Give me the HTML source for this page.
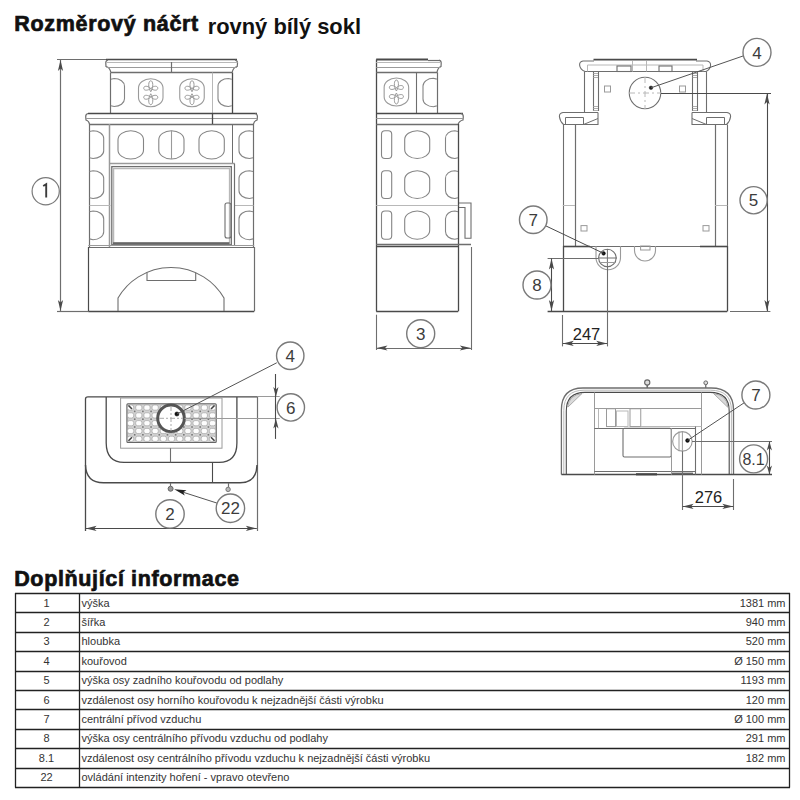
<!DOCTYPE html><html><head><meta charset="utf-8"><style>html,body{margin:0;padding:0;background:#fff;width:800px;height:800px;overflow:hidden}svg{position:absolute;left:0;top:0;font-family:"Liberation Sans",sans-serif}</style></head><body>
<svg width="800" height="800" viewBox="0 0 800 800">
<rect x="0" y="0" width="800" height="800" fill="#fff"/>
<text x="14.3" y="31.3" font-size="21.5" text-anchor="start" fill="#111" font-weight="bold" letter-spacing="0.68" stroke="#111" stroke-width="0.7">Rozměrový náčrt</text>
<text x="207.7" y="34.4" font-size="21.9" text-anchor="start" fill="#111" font-weight="bold" >rovný bílý sokl</text>
<text x="14.2" y="586.2" font-size="21.5" text-anchor="start" fill="#111" font-weight="bold" letter-spacing="0.64" stroke="#111" stroke-width="0.7">Doplňující informace</text>
<line x1="15" y1="593.5" x2="790" y2="593.5" stroke="#222" stroke-width="1.3"/>
<line x1="15" y1="612.5" x2="790" y2="612.5" stroke="#222" stroke-width="1.3"/>
<line x1="15" y1="632.5" x2="790" y2="632.5" stroke="#222" stroke-width="1.3"/>
<line x1="15" y1="651.5" x2="790" y2="651.5" stroke="#222" stroke-width="1.3"/>
<line x1="15" y1="671.5" x2="790" y2="671.5" stroke="#222" stroke-width="1.3"/>
<line x1="15" y1="690.5" x2="790" y2="690.5" stroke="#222" stroke-width="1.3"/>
<line x1="15" y1="709.5" x2="790" y2="709.5" stroke="#222" stroke-width="1.3"/>
<line x1="15" y1="729.5" x2="790" y2="729.5" stroke="#222" stroke-width="1.3"/>
<line x1="15" y1="748.5" x2="790" y2="748.5" stroke="#222" stroke-width="1.3"/>
<line x1="15" y1="768.5" x2="790" y2="768.5" stroke="#222" stroke-width="1.3"/>
<line x1="15" y1="787.5" x2="790" y2="787.5" stroke="#222" stroke-width="1.3"/>
<line x1="15.5" y1="593" x2="15.5" y2="787.5" stroke="#222" stroke-width="1.3"/>
<line x1="79.5" y1="593" x2="79.5" y2="787.5" stroke="#222" stroke-width="1.3"/>
<line x1="789.5" y1="593" x2="789.5" y2="787.5" stroke="#222" stroke-width="1.3"/>
<text x="46.5" y="606.6" font-size="11" text-anchor="middle" fill="#333" font-weight="normal" >1</text>
<text x="81.5" y="606.6" font-size="11" text-anchor="start" fill="#333" font-weight="normal" >výška</text>
<text x="785.5" y="606.6" font-size="11" text-anchor="end" fill="#333" font-weight="normal" >1381 mm</text>
<text x="46.5" y="626.0" font-size="11" text-anchor="middle" fill="#333" font-weight="normal" >2</text>
<text x="81.5" y="626.0" font-size="11" text-anchor="start" fill="#333" font-weight="normal" >šířka</text>
<text x="785.5" y="626.0" font-size="11" text-anchor="end" fill="#333" font-weight="normal" >940 mm</text>
<text x="46.5" y="645.4" font-size="11" text-anchor="middle" fill="#333" font-weight="normal" >3</text>
<text x="81.5" y="645.4" font-size="11" text-anchor="start" fill="#333" font-weight="normal" >hloubka</text>
<text x="785.5" y="645.4" font-size="11" text-anchor="end" fill="#333" font-weight="normal" >520 mm</text>
<text x="46.5" y="664.8000000000001" font-size="11" text-anchor="middle" fill="#333" font-weight="normal" >4</text>
<text x="81.5" y="664.8000000000001" font-size="11" text-anchor="start" fill="#333" font-weight="normal" >kouřovod</text>
<text x="785.5" y="664.8000000000001" font-size="11" text-anchor="end" fill="#333" font-weight="normal" >Ø 150 mm</text>
<text x="46.5" y="684.2" font-size="11" text-anchor="middle" fill="#333" font-weight="normal" >5</text>
<text x="81.5" y="684.2" font-size="11" text-anchor="start" fill="#333" font-weight="normal" >výška osy zadního kouřovodu od podlahy</text>
<text x="785.5" y="684.2" font-size="11" text-anchor="end" fill="#333" font-weight="normal" >1193 mm</text>
<text x="46.5" y="703.6" font-size="11" text-anchor="middle" fill="#333" font-weight="normal" >6</text>
<text x="81.5" y="703.6" font-size="11" text-anchor="start" fill="#333" font-weight="normal" >vzdálenost osy horního kouřovodu k nejzadnější části výrobku</text>
<text x="785.5" y="703.6" font-size="11" text-anchor="end" fill="#333" font-weight="normal" >120 mm</text>
<text x="46.5" y="723.0" font-size="11" text-anchor="middle" fill="#333" font-weight="normal" >7</text>
<text x="81.5" y="723.0" font-size="11" text-anchor="start" fill="#333" font-weight="normal" >centrální přívod vzduchu</text>
<text x="785.5" y="723.0" font-size="11" text-anchor="end" fill="#333" font-weight="normal" >Ø 100 mm</text>
<text x="46.5" y="742.4" font-size="11" text-anchor="middle" fill="#333" font-weight="normal" >8</text>
<text x="81.5" y="742.4" font-size="11" text-anchor="start" fill="#333" font-weight="normal" >výška osy centrálního přívodu vzduchu od podlahy</text>
<text x="785.5" y="742.4" font-size="11" text-anchor="end" fill="#333" font-weight="normal" >291 mm</text>
<text x="46.5" y="761.8000000000001" font-size="11" text-anchor="middle" fill="#333" font-weight="normal" >8.1</text>
<text x="81.5" y="761.8000000000001" font-size="11" text-anchor="start" fill="#333" font-weight="normal" >vzdálenost osy centrálního přívodu vzduchu k nejzadnější části výrobku</text>
<text x="785.5" y="761.8000000000001" font-size="11" text-anchor="end" fill="#333" font-weight="normal" >182 mm</text>
<text x="46.5" y="781.2" font-size="11" text-anchor="middle" fill="#333" font-weight="normal" >22</text>
<text x="81.5" y="781.2" font-size="11" text-anchor="start" fill="#333" font-weight="normal" >ovládání intenzity hoření - vpravo otevřeno</text>
<line x1="57" y1="59.5" x2="106" y2="59.5" stroke="#6e6e6e" stroke-width="1.2"/>
<line x1="57" y1="311.5" x2="88.3" y2="311.5" stroke="#6e6e6e" stroke-width="1.2"/>
<line x1="60.5" y1="60" x2="60.5" y2="311" stroke="#6e6e6e" stroke-width="1.2"/>
<path d="M60.50,60.00 L63.10,71.00 L60.50,68.50 L57.90,71.00 Z" fill="#4a4a4a" stroke="none"/>
<path d="M60.50,311.00 L57.90,300.00 L60.50,302.50 L63.10,300.00 Z" fill="#4a4a4a" stroke="none"/>
<circle cx="45.7" cy="191.2" r="13.6" stroke="#7a7a7a" stroke-width="1.2" fill="none"/>
<path d="M43.2,186 L46.2,184.2 L46.2,197.5" stroke="#3c3c3c" stroke-width="1.9" fill="none" stroke-linejoin="miter"/>
<line x1="106" y1="59.5" x2="237" y2="59.5" stroke="#4a4a4a" stroke-width="1.6"/>
<path d="M108,60 Q105.5,60.5 105.8,63.5 L106,66.5 Q110,67.5 110.8,72.5" stroke="#6e6e6e" stroke-width="1.2" fill="none" />
<path d="M235,60 Q237.8,60.5 237.5,63.5 L237.2,66.5 Q233,67.5 232.2,72.5" stroke="#6e6e6e" stroke-width="1.2" fill="none" />
<line x1="106" y1="62.5" x2="237.5" y2="62.5" stroke="#b8b8b8" stroke-width="1"/>
<line x1="106.5" y1="67.5" x2="237" y2="67.5" stroke="#9a9a9a" stroke-width="1.1"/>
<line x1="110.8" y1="72.5" x2="232.2" y2="72.5" stroke="#6e6e6e" stroke-width="1.3"/>
<line x1="171.5" y1="62" x2="171.5" y2="72.5" stroke="#6e6e6e" stroke-width="1.2"/>
<line x1="110.5" y1="72.5" x2="110.5" y2="113" stroke="#6e6e6e" stroke-width="1.2"/>
<line x1="232.5" y1="72.5" x2="232.5" y2="113" stroke="#4a4a4a" stroke-width="1.3"/>
<line x1="212.5" y1="72.5" x2="212.5" y2="113" stroke="#b8b8b8" stroke-width="1"/>
<path d="M110.80,79.30 L114.22,78.50 A10.28,7.70 0 0 1 124.50,86.20 L124.50,98.80 A10.28,7.70 0 0 1 114.22,106.50 L110.80,105.70" stroke="#858585" stroke-width="1.1" fill="none" />
<path d="M231.80,79.30 L228.35,78.50 A10.35,7.70 0 0 0 218.00,86.20 L218.00,98.80 A10.35,7.70 0 0 0 228.35,106.50 L231.80,105.70" stroke="#858585" stroke-width="1.1" fill="none" />
<path d="M138.50,87.99 A12.25,9.24 0 0 1 163.00,87.99 L163.00,97.51 A12.25,9.24 0 0 1 138.50,97.51 Z" stroke="#9a9a9a" stroke-width="1.1" fill="none" />
<path d="M150.75,91.75 C147.55,86.75 148.55,80.75 150.75,80.75 C152.95,80.75 153.95,86.75 150.75,91.75" stroke="#9a9a9a" stroke-width="1" fill="none" />
<path d="M150.75,88.55 C147.75,85.25 143.25,85.75 143.75,88.55 C144.25,90.95 147.75,90.55 150.75,88.55" stroke="#9a9a9a" stroke-width="1" fill="none" />
<path d="M150.75,88.55 C153.75,85.25 158.25,85.75 157.75,88.55 C157.25,90.95 153.75,90.55 150.75,88.55" stroke="#9a9a9a" stroke-width="1" fill="none" />
<path d="M150.75,93.75 C147.55,98.75 148.55,104.75 150.75,104.75 C152.95,104.75 153.95,98.75 150.75,93.75" stroke="#9a9a9a" stroke-width="1" fill="none" />
<path d="M150.75,96.95 C147.75,100.25 143.25,99.75 143.75,96.95 C144.25,94.55 147.75,94.95 150.75,96.95" stroke="#9a9a9a" stroke-width="1" fill="none" />
<path d="M150.75,96.95 C153.75,100.25 158.25,99.75 157.75,96.95 C157.25,94.55 153.75,94.95 150.75,96.95" stroke="#9a9a9a" stroke-width="1" fill="none" />
<path d="M179.75,87.99 A12.25,9.24 0 0 1 204.25,87.99 L204.25,97.51 A12.25,9.24 0 0 1 179.75,97.51 Z" stroke="#9a9a9a" stroke-width="1.1" fill="none" />
<path d="M192,91.75 C188.8,86.75 189.8,80.75 192,80.75 C194.2,80.75 195.2,86.75 192,91.75" stroke="#9a9a9a" stroke-width="1" fill="none" />
<path d="M192,88.55 C189,85.25 184.5,85.75 185,88.55 C185.5,90.95 189,90.55 192,88.55" stroke="#9a9a9a" stroke-width="1" fill="none" />
<path d="M192,88.55 C195,85.25 199.5,85.75 199,88.55 C198.5,90.95 195,90.55 192,88.55" stroke="#9a9a9a" stroke-width="1" fill="none" />
<path d="M192,93.75 C188.8,98.75 189.8,104.75 192,104.75 C194.2,104.75 195.2,98.75 192,93.75" stroke="#9a9a9a" stroke-width="1" fill="none" />
<path d="M192,96.95 C189,100.25 184.5,99.75 185,96.95 C185.5,94.55 189,94.95 192,96.95" stroke="#9a9a9a" stroke-width="1" fill="none" />
<path d="M192,96.95 C195,100.25 199.5,99.75 199,96.95 C198.5,94.55 195,94.95 192,96.95" stroke="#9a9a9a" stroke-width="1" fill="none" />
<line x1="88" y1="113.5" x2="257" y2="113.5" stroke="#4a4a4a" stroke-width="1.6"/>
<path d="M88,113.5 Q85.5,114 85.7,117 L86,120 Q89,121 89.5,124.2" stroke="#6e6e6e" stroke-width="1.2" fill="none" />
<path d="M255,113.5 Q257.6,114 257.4,117 L257.1,120 Q254,121 253.5,124.2" stroke="#6e6e6e" stroke-width="1.2" fill="none" />
<line x1="86" y1="118.5" x2="257" y2="118.5" stroke="#9a9a9a" stroke-width="1.1"/>
<line x1="89.5" y1="124.5" x2="253.5" y2="124.5" stroke="#6e6e6e" stroke-width="1.3"/>
<line x1="212.5" y1="113.3" x2="212.5" y2="124" stroke="#4a4a4a" stroke-width="1.3"/>
<line x1="89.5" y1="124" x2="89.5" y2="247" stroke="#6e6e6e" stroke-width="1.2"/>
<line x1="253.5" y1="124" x2="253.5" y2="247" stroke="#6e6e6e" stroke-width="1.2"/>
<line x1="109.5" y1="124" x2="109.5" y2="247" stroke="#9a9a9a" stroke-width="1.5"/>
<line x1="232.5" y1="124" x2="232.5" y2="164" stroke="#6e6e6e" stroke-width="1"/>
<path d="M89.50,131.50 L93.05,130.70 A10.65,7.65 0 0 1 103.70,138.34 L103.70,150.85 A10.65,7.65 0 0 1 93.05,158.50 L89.50,157.70" stroke="#858585" stroke-width="1.1" fill="none" />
<path d="M253.00,131.50 L249.50,130.70 A10.50,7.65 0 0 0 239.00,138.34 L239.00,150.85 A10.50,7.65 0 0 0 249.50,158.50 L253.00,157.70" stroke="#858585" stroke-width="1.1" fill="none" />
<path d="M89.50,171.50 L93.05,170.70 A10.65,7.65 0 0 1 103.70,178.34 L103.70,190.85 A10.65,7.65 0 0 1 93.05,198.50 L89.50,197.70" stroke="#858585" stroke-width="1.1" fill="none" />
<path d="M253.00,171.50 L249.50,170.70 A10.50,7.65 0 0 0 239.00,178.34 L239.00,190.85 A10.50,7.65 0 0 0 249.50,198.50 L253.00,197.70" stroke="#858585" stroke-width="1.1" fill="none" />
<path d="M89.50,211.80 L93.05,211.00 A10.65,7.89 0 0 1 103.70,218.89 L103.70,231.81 A10.65,7.89 0 0 1 93.05,239.70 L89.50,238.90" stroke="#858585" stroke-width="1.1" fill="none" />
<path d="M253.00,211.80 L249.50,211.00 A10.50,7.89 0 0 0 239.00,218.89 L239.00,231.81 A10.50,7.89 0 0 0 249.50,239.70 L253.00,238.90" stroke="#858585" stroke-width="1.1" fill="none" />
<line x1="89.5" y1="205.5" x2="110.5" y2="205.5" stroke="#b8b8b8" stroke-width="1"/>
<line x1="234.7" y1="205.5" x2="253.5" y2="205.5" stroke="#b8b8b8" stroke-width="1"/>
<path d="M118.00,139.76 A12.75,9.06 0 0 1 143.50,139.76 L143.50,149.94 A12.75,9.06 0 0 1 118.00,149.94 Z" stroke="#858585" stroke-width="1.1" fill="none" />
<path d="M158.80,139.76 A12.60,9.06 0 0 1 184.00,139.76 L184.00,149.94 A12.60,9.06 0 0 1 158.80,149.94 Z" stroke="#858585" stroke-width="1.1" fill="none" />
<line x1="171.5" y1="130.7" x2="171.5" y2="159" stroke="#9a9a9a" stroke-width="1.1"/>
<path d="M199.00,139.76 A12.65,9.06 0 0 1 224.30,139.76 L224.30,149.94 A12.65,9.06 0 0 1 199.00,149.94 Z" stroke="#858585" stroke-width="1.1" fill="none" />
<line x1="109.5" y1="163.5" x2="234.7" y2="163.5" stroke="#9a9a9a" stroke-width="1.5"/>
<rect x="111.8" y="166.6" width="119.5" height="78.2" rx="0" stroke="#6e6e6e" stroke-width="1.3" fill="none"/>
<rect x="113.6" y="168.6" width="115.9" height="74.4" rx="0" stroke="#b8b8b8" stroke-width="1.3" fill="none"/>
<line x1="234.5" y1="163.6" x2="234.5" y2="246" stroke="#6e6e6e" stroke-width="1.2"/>
<line x1="113" y1="243.4" x2="229.5" y2="243.4" stroke="#666" stroke-width="2.2"/>
<rect x="225" y="203" width="6" height="35" rx="2" stroke="#6e6e6e" stroke-width="1.1" fill="none"/>
<line x1="88.3" y1="245.5" x2="254.2" y2="245.5" stroke="#9a9a9a" stroke-width="1"/>
<line x1="88.3" y1="247.5" x2="254.2" y2="247.5" stroke="#6e6e6e" stroke-width="1.2"/>
<line x1="88.5" y1="247" x2="88.5" y2="311.3" stroke="#4a4a4a" stroke-width="1.2"/>
<line x1="254.5" y1="247" x2="254.5" y2="311.3" stroke="#6e6e6e" stroke-width="1.2"/>
<line x1="88.3" y1="311.5" x2="254.2" y2="311.5" stroke="#4a4a4a" stroke-width="1.3"/>
<path d="M118,311 L118,298 A61.3,61.3 0 0 1 224,298 L224,311" stroke="#6e6e6e" stroke-width="1.1" fill="none" />
<path d="M147,272.4 L147,280.5 L195.7,280.5 L195.7,272.8" stroke="#6e6e6e" stroke-width="1.1" fill="none" />
<line x1="376.5" y1="59.5" x2="376.5" y2="311.3" stroke="#4a4a4a" stroke-width="1.3"/>
<line x1="376.2" y1="59.6" x2="428" y2="59.6" stroke="#4a4a4a" stroke-width="2"/>
<line x1="428" y1="60.5" x2="439" y2="60.5" stroke="#6e6e6e" stroke-width="1.2"/>
<path d="M439,60.2 Q441.4,60.8 441.2,63.5 L441,66.5 Q437.8,67.5 437,72.5" stroke="#6e6e6e" stroke-width="1.2" fill="none" />
<line x1="376.2" y1="62.5" x2="441" y2="62.5" stroke="#b8b8b8" stroke-width="1"/>
<line x1="376.2" y1="67.5" x2="440.5" y2="67.5" stroke="#9a9a9a" stroke-width="1.1"/>
<line x1="376.2" y1="72.5" x2="437" y2="72.5" stroke="#6e6e6e" stroke-width="1.3"/>
<line x1="437.5" y1="72.3" x2="437.5" y2="113" stroke="#6e6e6e" stroke-width="1.2"/>
<line x1="416.5" y1="72.3" x2="416.5" y2="113" stroke="#6e6e6e" stroke-width="1.1"/>
<path d="M384.15,87.24 A12.25,9.24 0 0 1 408.65,87.24 L408.65,96.76 A12.25,9.24 0 0 1 384.15,96.76 Z" stroke="#9a9a9a" stroke-width="1.1" fill="none" />
<path d="M396.4,91.0 C393.2,86 394.2,80 396.4,80 C398.59999999999997,80 399.59999999999997,86 396.4,91.0" stroke="#9a9a9a" stroke-width="1" fill="none" />
<path d="M396.4,87.8 C393.4,84.5 388.9,85 389.4,87.8 C389.9,90.2 393.4,89.8 396.4,87.8" stroke="#9a9a9a" stroke-width="1" fill="none" />
<path d="M396.4,87.8 C399.4,84.5 403.9,85 403.4,87.8 C402.9,90.2 399.4,89.8 396.4,87.8" stroke="#9a9a9a" stroke-width="1" fill="none" />
<path d="M396.4,93.0 C393.2,98 394.2,104 396.4,104 C398.59999999999997,104 399.59999999999997,98 396.4,93.0" stroke="#9a9a9a" stroke-width="1" fill="none" />
<path d="M396.4,96.2 C393.4,99.5 388.9,99 389.4,96.2 C389.9,93.8 393.4,94.2 396.4,96.2" stroke="#9a9a9a" stroke-width="1" fill="none" />
<path d="M396.4,96.2 C399.4,99.5 403.9,99 403.4,96.2 C402.9,93.8 399.4,94.2 396.4,96.2" stroke="#9a9a9a" stroke-width="1" fill="none" />
<path d="M436.80,79.10 L433.35,78.30 A10.35,7.81 0 0 0 423.00,86.11 L423.00,98.89 A10.35,7.81 0 0 0 433.35,106.70 L436.80,105.90" stroke="#858585" stroke-width="1.1" fill="none" />
<line x1="376.2" y1="113.5" x2="463" y2="113.5" stroke="#4a4a4a" stroke-width="1.6"/>
<path d="M461,113.5 Q463.5,114 463.3,117 L463,120 Q459,121 458.2,124.2" stroke="#6e6e6e" stroke-width="1.2" fill="none" />
<line x1="376.2" y1="118.5" x2="463" y2="118.5" stroke="#9a9a9a" stroke-width="1.1"/>
<line x1="376.2" y1="124.5" x2="458.2" y2="124.5" stroke="#6e6e6e" stroke-width="1.3"/>
<line x1="458.5" y1="124" x2="458.5" y2="311.3" stroke="#4a4a4a" stroke-width="1.3"/>
<rect x="381.5" y="130.7" width="10.2" height="27.80000000000001" rx="3.5" stroke="#858585" stroke-width="1.1" fill="none"/>
<path d="M404.70,139.60 A12.50,8.90 0 0 1 429.70,139.60 L429.70,149.60 A12.50,8.90 0 0 1 404.70,149.60 Z" stroke="#858585" stroke-width="1.1" fill="none" />
<path d="M458.00,131.50 L454.88,130.70 A9.38,7.65 0 0 0 445.50,138.34 L445.50,150.85 A9.38,7.65 0 0 0 454.88,158.50 L458.00,157.70" stroke="#858585" stroke-width="1.1" fill="none" />
<rect x="381.5" y="170.7" width="10.2" height="27.80000000000001" rx="3.5" stroke="#858585" stroke-width="1.1" fill="none"/>
<path d="M404.70,179.60 A12.50,8.90 0 0 1 429.70,179.60 L429.70,189.60 A12.50,8.90 0 0 1 404.70,189.60 Z" stroke="#858585" stroke-width="1.1" fill="none" />
<path d="M458.00,171.50 L454.88,170.70 A9.38,7.65 0 0 0 445.50,178.34 L445.50,190.85 A9.38,7.65 0 0 0 454.88,198.50 L458.00,197.70" stroke="#858585" stroke-width="1.1" fill="none" />
<rect x="381.5" y="211" width="10.2" height="28.30000000000001" rx="3.5" stroke="#858585" stroke-width="1.1" fill="none"/>
<path d="M404.70,220.06 A12.50,9.06 0 0 1 429.70,220.06 L429.70,230.24 A12.50,9.06 0 0 1 404.70,230.24 Z" stroke="#858585" stroke-width="1.1" fill="none" />
<path d="M458.00,211.80 L454.88,211.00 A9.38,7.78 0 0 0 445.50,218.78 L445.50,231.52 A9.38,7.78 0 0 0 454.88,239.30 L458.00,238.50" stroke="#858585" stroke-width="1.1" fill="none" />
<line x1="376.2" y1="205.5" x2="458.2" y2="205.5" stroke="#b8b8b8" stroke-width="1"/>
<path d="M459,203 L471,203 L471,238.2 L465,238.2 L465,207.5 L459,207.5" stroke="#6e6e6e" stroke-width="1.1" fill="none" />
<line x1="376.2" y1="244.5" x2="471" y2="244.5" stroke="#6e6e6e" stroke-width="1.3"/>
<line x1="376.2" y1="246.5" x2="458.2" y2="246.5" stroke="#4a4a4a" stroke-width="1.3"/>
<line x1="376.2" y1="311.5" x2="458.2" y2="311.5" stroke="#4a4a4a" stroke-width="1.3"/>
<line x1="471.5" y1="247" x2="471.5" y2="350" stroke="#6e6e6e" stroke-width="1.1"/>
<line x1="376.5" y1="314.7" x2="376.5" y2="350" stroke="#6e6e6e" stroke-width="1.1"/>
<line x1="376.5" y1="348.5" x2="471" y2="348.5" stroke="#6e6e6e" stroke-width="1.1"/>
<path d="M376.50,348.00 L387.50,345.40 L385.00,348.00 L387.50,350.60 Z" fill="#4a4a4a" stroke="none"/>
<path d="M470.80,348.00 L459.80,350.60 L462.30,348.00 L459.80,345.40 Z" fill="#4a4a4a" stroke="none"/>
<circle cx="420.7" cy="333.7" r="14" stroke="#7a7a7a" stroke-width="1.4" fill="none"/>
<text x="420.7" y="339.82" font-size="17" text-anchor="middle" fill="#3c3c3c" font-weight="normal" >3</text>
<line x1="593.5" y1="59.6" x2="697" y2="59.6" stroke="#4a4a4a" stroke-width="1.8"/>
<path d="M594,61 L583,61 Q579.5,61.5 579.6,65 Q580,69.5 585,71.5 L706,71.5 Q710.3,69.5 710.6,65 Q710.5,61.5 707,61 L696,61" stroke="#6e6e6e" stroke-width="1.1" fill="none" />
<path d="M587.5,71.5 L587.5,65 L703,65 L703,71.5" stroke="#b8b8b8" stroke-width="1" fill="none" />
<rect x="617" y="66" width="14" height="5.5" rx="0" stroke="#6e6e6e" stroke-width="1.1" fill="none"/>
<rect x="659" y="66" width="13" height="5.5" rx="0" stroke="#6e6e6e" stroke-width="1.1" fill="none"/>
<line x1="632.5" y1="61" x2="632.5" y2="71.5" stroke="#b8b8b8" stroke-width="1"/>
<line x1="646.5" y1="61" x2="646.5" y2="71.5" stroke="#b8b8b8" stroke-width="1"/>
<line x1="584.5" y1="71.5" x2="584.5" y2="112.5" stroke="#6e6e6e" stroke-width="1.1"/>
<line x1="706.5" y1="71.5" x2="706.5" y2="112.5" stroke="#6e6e6e" stroke-width="1.1"/>
<line x1="593.5" y1="72" x2="593.5" y2="111" stroke="#6e6e6e" stroke-width="1.1"/>
<line x1="598.5" y1="72" x2="598.5" y2="111" stroke="#6e6e6e" stroke-width="1.1"/>
<line x1="593" y1="73.5" x2="598" y2="73.5" stroke="#9a9a9a" stroke-width="0.8"/>
<line x1="593" y1="75.5" x2="598" y2="75.5" stroke="#9a9a9a" stroke-width="0.8"/>
<line x1="593" y1="77.5" x2="598" y2="77.5" stroke="#9a9a9a" stroke-width="0.8"/>
<line x1="593" y1="106.5" x2="598" y2="106.5" stroke="#9a9a9a" stroke-width="0.8"/>
<line x1="593" y1="108.5" x2="598" y2="108.5" stroke="#9a9a9a" stroke-width="0.8"/>
<line x1="593" y1="110.5" x2="598" y2="110.5" stroke="#9a9a9a" stroke-width="0.8"/>
<line x1="692.5" y1="72" x2="692.5" y2="111" stroke="#6e6e6e" stroke-width="1.1"/>
<line x1="697.5" y1="72" x2="697.5" y2="111" stroke="#6e6e6e" stroke-width="1.1"/>
<line x1="692.5" y1="73.5" x2="697" y2="73.5" stroke="#9a9a9a" stroke-width="0.8"/>
<line x1="692.5" y1="75.5" x2="697" y2="75.5" stroke="#9a9a9a" stroke-width="0.8"/>
<line x1="692.5" y1="77.5" x2="697" y2="77.5" stroke="#9a9a9a" stroke-width="0.8"/>
<line x1="692.5" y1="106.5" x2="697" y2="106.5" stroke="#9a9a9a" stroke-width="0.8"/>
<line x1="692.5" y1="108.5" x2="697" y2="108.5" stroke="#9a9a9a" stroke-width="0.8"/>
<line x1="692.5" y1="110.5" x2="697" y2="110.5" stroke="#9a9a9a" stroke-width="0.8"/>
<rect x="604.5" y="86" width="6" height="6" rx="0" stroke="#9a9a9a" stroke-width="1" fill="none"/>
<rect x="679.5" y="86" width="6" height="6" rx="0" stroke="#9a9a9a" stroke-width="1" fill="none"/>
<circle cx="645" cy="93" r="15.75" stroke="#6e6e6e" stroke-width="1.1" fill="none"/>
<path d="M629,93 L661,93 M645,77 L645,109" stroke="#b8b8b8" stroke-width="1" fill="none" stroke-dasharray="6 3 2 3"/>
<circle cx="651" cy="87.8" r="1.8" stroke="#222" stroke-width="0.5" fill="#222"/>
<line x1="651" y1="87.8" x2="743" y2="56" stroke="#555" stroke-width="1"/>
<circle cx="757" cy="52.4" r="14" stroke="#7a7a7a" stroke-width="1.4" fill="none"/>
<text x="757" y="58.519999999999996" font-size="17" text-anchor="middle" fill="#3c3c3c" font-weight="normal" >4</text>
<line x1="661" y1="93.5" x2="771" y2="93.5" stroke="#4a4a4a" stroke-width="1.1"/>
<path d="M598,112.5 L563,112.5 Q559.3,113 559.4,116.5 Q560,121.5 563.5,124.5 L598,124.5 L598,112.5" stroke="#6e6e6e" stroke-width="1.1" fill="none" />
<path d="M565.5,124.5 L565.5,117.5 L583.5,117.5 L583.5,124.5 M583.5,124.5 L598,118.5" stroke="#6e6e6e" stroke-width="1" fill="none" />
<path d="M692,112.5 L727,112.5 Q730.7,113 730.6,116.5 Q730,121.5 726.5,124.5 L692,124.5 L692,112.5" stroke="#6e6e6e" stroke-width="1.1" fill="none" />
<path d="M724.5,124.5 L724.5,117.5 L706.5,117.5 L706.5,124.5 M706.5,124.5 L692,118.5" stroke="#6e6e6e" stroke-width="1" fill="none" />
<line x1="563.5" y1="124.5" x2="563.5" y2="246" stroke="#6e6e6e" stroke-width="1.1"/>
<line x1="563.5" y1="246" x2="563.5" y2="311.4" stroke="#4a4a4a" stroke-width="1.3"/>
<line x1="575.5" y1="124.5" x2="575.5" y2="246" stroke="#6e6e6e" stroke-width="1.2"/>
<line x1="727.5" y1="124.5" x2="727.5" y2="246" stroke="#6e6e6e" stroke-width="1.1"/>
<line x1="727.5" y1="246" x2="727.5" y2="311.4" stroke="#4a4a4a" stroke-width="1.3"/>
<line x1="715.5" y1="124.5" x2="715.5" y2="246" stroke="#6e6e6e" stroke-width="1.2"/>
<line x1="562.75" y1="205.5" x2="575" y2="205.5" stroke="#b8b8b8" stroke-width="1"/>
<line x1="715" y1="205.5" x2="727.4" y2="205.5" stroke="#b8b8b8" stroke-width="1"/>
<rect x="581" y="225.6" width="6" height="5.4" rx="0" stroke="#9a9a9a" stroke-width="1" fill="none"/>
<rect x="703" y="225.6" width="6" height="5.4" rx="0" stroke="#9a9a9a" stroke-width="1" fill="none"/>
<line x1="563" y1="246.5" x2="727" y2="246.5" stroke="#6e6e6e" stroke-width="1.2"/>
<line x1="563" y1="246.5" x2="590" y2="246.5" stroke="#4a4a4a" stroke-width="1.6"/>
<line x1="700" y1="246.5" x2="727" y2="246.5" stroke="#4a4a4a" stroke-width="1.6"/>
<line x1="547.6" y1="311.5" x2="727.2" y2="311.5" stroke="#4a4a4a" stroke-width="1.3"/>
<path d="M596,246 L596,257.5 A12.25,12.25 0 0 0 620.5,257.5 L620.5,246" stroke="#9a9a9a" stroke-width="1.1" fill="none" />
<circle cx="607.4" cy="258" r="8.75" stroke="#6e6e6e" stroke-width="1.1" fill="none"/>
<path d="M598,258 L617,258 M607.4,249 L607.4,267" stroke="#6e6e6e" stroke-width="1" fill="none" />
<line x1="599" y1="262.5" x2="616" y2="262.5" stroke="#9a9a9a" stroke-width="1"/>
<path d="M634.5,246 L634.5,250.5 A10.5,10.5 0 0 0 655.5,250.5 L655.5,246" stroke="#9a9a9a" stroke-width="1.1" fill="none" />
<rect x="640.6" y="246" width="9.4" height="4" rx="0" stroke="#9a9a9a" stroke-width="1" fill="none"/>
<circle cx="603.6" cy="253.4" r="1.8" stroke="#111" stroke-width="0.5" fill="#111"/>
<line x1="607.5" y1="267" x2="607.5" y2="346.4" stroke="#6e6e6e" stroke-width="1.1"/>
<line x1="545.85" y1="225.9" x2="603.6" y2="253.35" stroke="#4a4a4a" stroke-width="1"/>
<circle cx="533.25" cy="219.75" r="13.8" stroke="#7a7a7a" stroke-width="1.4" fill="none"/>
<text x="533.25" y="225.87" font-size="17" text-anchor="middle" fill="#3c3c3c" font-weight="normal" >7</text>
<line x1="547.6" y1="258.5" x2="598" y2="258.5" stroke="#6e6e6e" stroke-width="1.1"/>
<line x1="551.5" y1="258.5" x2="551.5" y2="311" stroke="#4a4a4a" stroke-width="1.1"/>
<path d="M551.50,258.50 L554.10,269.50 L551.50,267.00 L548.90,269.50 Z" fill="#4a4a4a" stroke="none"/>
<path d="M551.50,311.00 L548.90,300.00 L551.50,302.50 L554.10,300.00 Z" fill="#4a4a4a" stroke="none"/>
<circle cx="537" cy="285" r="14" stroke="#7a7a7a" stroke-width="1.4" fill="none"/>
<text x="537" y="291.12" font-size="17" text-anchor="middle" fill="#3c3c3c" font-weight="normal" >8</text>
<line x1="562.5" y1="315" x2="562.5" y2="346.4" stroke="#6e6e6e" stroke-width="1.1"/>
<line x1="562.8" y1="343.5" x2="607.2" y2="343.5" stroke="#4a4a4a" stroke-width="1.1"/>
<path d="M562.80,343.40 L573.80,340.80 L571.30,343.40 L573.80,346.00 Z" fill="#4a4a4a" stroke="none"/>
<path d="M607.20,343.40 L596.20,346.00 L598.70,343.40 L596.20,340.80 Z" fill="#4a4a4a" stroke="none"/>
<text x="586.5" y="339.5" font-size="16.5" text-anchor="middle" fill="#222" font-weight="normal" >247</text>
<line x1="767.5" y1="93.6" x2="767.5" y2="311" stroke="#4a4a4a" stroke-width="1.1"/>
<path d="M767.00,93.60 L769.60,104.60 L767.00,102.10 L764.40,104.60 Z" fill="#4a4a4a" stroke="none"/>
<path d="M767.00,311.00 L764.40,300.00 L767.00,302.50 L769.60,300.00 Z" fill="#4a4a4a" stroke="none"/>
<line x1="730" y1="311.5" x2="770.4" y2="311.5" stroke="#6e6e6e" stroke-width="1.1"/>
<circle cx="753.6" cy="200.25" r="13.6" stroke="#7a7a7a" stroke-width="1.4" fill="none"/>
<text x="753.6" y="206.37" font-size="17" text-anchor="middle" fill="#3c3c3c" font-weight="normal" >5</text>
<path d="M85.5,531 L85.5,399 Q85.5,396.9 88,396.9 L257,396.9" stroke="#4a4a4a" stroke-width="1.3" fill="none" />
<line x1="257" y1="396.5" x2="279.75" y2="396.5" stroke="#9a9a9a" stroke-width="1"/>
<line x1="257.5" y1="396.9" x2="257.5" y2="531" stroke="#6e6e6e" stroke-width="1.2"/>
<path d="M85.5,465 Q86,482.8 103.5,482.8 L240,482.8 Q256.5,482.8 257,465" stroke="#4a4a4a" stroke-width="1.4" fill="none" />
<path d="M106.2,397 L106.2,443 Q106.4,462.4 124,462.4 L219,462.4 Q236.9,462.4 236.9,443 L236.9,397" stroke="#4a4a4a" stroke-width="1.3" fill="none" />
<rect x="120.6" y="398" width="101.4" height="50.2" rx="0" stroke="#9a9a9a" stroke-width="1" fill="none"/>
<line x1="170.5" y1="448.2" x2="170.5" y2="462.4" stroke="#6e6e6e" stroke-width="1.1"/>
<line x1="212.5" y1="462.4" x2="212.5" y2="482.8" stroke="#4a4a4a" stroke-width="1.1"/>
<rect x="126.9" y="403.75" width="89.35" height="38.75" rx="1" fill="#d2d2d2" stroke="#666" stroke-width="1.1"/>
<rect x="127.50" y="405.00" width="6.2" height="5.2" rx="2" fill="#fdfdfd" stroke="#9a9a9a" stroke-width="0.6"/>
<rect x="135.69" y="405.00" width="6.2" height="5.2" rx="2" fill="#fdfdfd" stroke="#9a9a9a" stroke-width="0.6"/>
<rect x="143.88" y="405.00" width="6.2" height="5.2" rx="2" fill="#fdfdfd" stroke="#9a9a9a" stroke-width="0.6"/>
<rect x="152.07" y="405.00" width="6.2" height="5.2" rx="2" fill="#fdfdfd" stroke="#9a9a9a" stroke-width="0.6"/>
<rect x="160.26" y="405.00" width="6.2" height="5.2" rx="2" fill="#fdfdfd" stroke="#9a9a9a" stroke-width="0.6"/>
<rect x="168.45" y="405.00" width="6.2" height="5.2" rx="2" fill="#fdfdfd" stroke="#9a9a9a" stroke-width="0.6"/>
<rect x="176.64" y="405.00" width="6.2" height="5.2" rx="2" fill="#fdfdfd" stroke="#9a9a9a" stroke-width="0.6"/>
<rect x="184.83" y="405.00" width="6.2" height="5.2" rx="2" fill="#fdfdfd" stroke="#9a9a9a" stroke-width="0.6"/>
<rect x="193.02" y="405.00" width="6.2" height="5.2" rx="2" fill="#fdfdfd" stroke="#9a9a9a" stroke-width="0.6"/>
<rect x="201.21" y="405.00" width="6.2" height="5.2" rx="2" fill="#fdfdfd" stroke="#9a9a9a" stroke-width="0.6"/>
<rect x="209.40" y="405.00" width="6.2" height="5.2" rx="2" fill="#fdfdfd" stroke="#9a9a9a" stroke-width="0.6"/>
<rect x="127.50" y="412.80" width="6.2" height="5.2" rx="2" fill="#fdfdfd" stroke="#9a9a9a" stroke-width="0.6"/>
<rect x="135.69" y="412.80" width="6.2" height="5.2" rx="2" fill="#fdfdfd" stroke="#9a9a9a" stroke-width="0.6"/>
<rect x="143.88" y="412.80" width="6.2" height="5.2" rx="2" fill="#fdfdfd" stroke="#9a9a9a" stroke-width="0.6"/>
<rect x="152.07" y="412.80" width="6.2" height="5.2" rx="2" fill="#fdfdfd" stroke="#9a9a9a" stroke-width="0.6"/>
<rect x="160.26" y="412.80" width="6.2" height="5.2" rx="2" fill="#fdfdfd" stroke="#9a9a9a" stroke-width="0.6"/>
<rect x="168.45" y="412.80" width="6.2" height="5.2" rx="2" fill="#fdfdfd" stroke="#9a9a9a" stroke-width="0.6"/>
<rect x="176.64" y="412.80" width="6.2" height="5.2" rx="2" fill="#fdfdfd" stroke="#9a9a9a" stroke-width="0.6"/>
<rect x="184.83" y="412.80" width="6.2" height="5.2" rx="2" fill="#fdfdfd" stroke="#9a9a9a" stroke-width="0.6"/>
<rect x="193.02" y="412.80" width="6.2" height="5.2" rx="2" fill="#fdfdfd" stroke="#9a9a9a" stroke-width="0.6"/>
<rect x="201.21" y="412.80" width="6.2" height="5.2" rx="2" fill="#fdfdfd" stroke="#9a9a9a" stroke-width="0.6"/>
<rect x="209.40" y="412.80" width="6.2" height="5.2" rx="2" fill="#fdfdfd" stroke="#9a9a9a" stroke-width="0.6"/>
<rect x="127.50" y="420.60" width="6.2" height="5.2" rx="2" fill="#fdfdfd" stroke="#9a9a9a" stroke-width="0.6"/>
<rect x="135.69" y="420.60" width="6.2" height="5.2" rx="2" fill="#fdfdfd" stroke="#9a9a9a" stroke-width="0.6"/>
<rect x="143.88" y="420.60" width="6.2" height="5.2" rx="2" fill="#fdfdfd" stroke="#9a9a9a" stroke-width="0.6"/>
<rect x="152.07" y="420.60" width="6.2" height="5.2" rx="2" fill="#fdfdfd" stroke="#9a9a9a" stroke-width="0.6"/>
<rect x="160.26" y="420.60" width="6.2" height="5.2" rx="2" fill="#fdfdfd" stroke="#9a9a9a" stroke-width="0.6"/>
<rect x="168.45" y="420.60" width="6.2" height="5.2" rx="2" fill="#fdfdfd" stroke="#9a9a9a" stroke-width="0.6"/>
<rect x="176.64" y="420.60" width="6.2" height="5.2" rx="2" fill="#fdfdfd" stroke="#9a9a9a" stroke-width="0.6"/>
<rect x="184.83" y="420.60" width="6.2" height="5.2" rx="2" fill="#fdfdfd" stroke="#9a9a9a" stroke-width="0.6"/>
<rect x="193.02" y="420.60" width="6.2" height="5.2" rx="2" fill="#fdfdfd" stroke="#9a9a9a" stroke-width="0.6"/>
<rect x="201.21" y="420.60" width="6.2" height="5.2" rx="2" fill="#fdfdfd" stroke="#9a9a9a" stroke-width="0.6"/>
<rect x="209.40" y="420.60" width="6.2" height="5.2" rx="2" fill="#fdfdfd" stroke="#9a9a9a" stroke-width="0.6"/>
<rect x="127.50" y="428.40" width="6.2" height="5.2" rx="2" fill="#fdfdfd" stroke="#9a9a9a" stroke-width="0.6"/>
<rect x="135.69" y="428.40" width="6.2" height="5.2" rx="2" fill="#fdfdfd" stroke="#9a9a9a" stroke-width="0.6"/>
<rect x="143.88" y="428.40" width="6.2" height="5.2" rx="2" fill="#fdfdfd" stroke="#9a9a9a" stroke-width="0.6"/>
<rect x="152.07" y="428.40" width="6.2" height="5.2" rx="2" fill="#fdfdfd" stroke="#9a9a9a" stroke-width="0.6"/>
<rect x="160.26" y="428.40" width="6.2" height="5.2" rx="2" fill="#fdfdfd" stroke="#9a9a9a" stroke-width="0.6"/>
<rect x="168.45" y="428.40" width="6.2" height="5.2" rx="2" fill="#fdfdfd" stroke="#9a9a9a" stroke-width="0.6"/>
<rect x="176.64" y="428.40" width="6.2" height="5.2" rx="2" fill="#fdfdfd" stroke="#9a9a9a" stroke-width="0.6"/>
<rect x="184.83" y="428.40" width="6.2" height="5.2" rx="2" fill="#fdfdfd" stroke="#9a9a9a" stroke-width="0.6"/>
<rect x="193.02" y="428.40" width="6.2" height="5.2" rx="2" fill="#fdfdfd" stroke="#9a9a9a" stroke-width="0.6"/>
<rect x="201.21" y="428.40" width="6.2" height="5.2" rx="2" fill="#fdfdfd" stroke="#9a9a9a" stroke-width="0.6"/>
<rect x="209.40" y="428.40" width="6.2" height="5.2" rx="2" fill="#fdfdfd" stroke="#9a9a9a" stroke-width="0.6"/>
<rect x="127.50" y="436.20" width="6.2" height="5.2" rx="2" fill="#fdfdfd" stroke="#9a9a9a" stroke-width="0.6"/>
<rect x="135.69" y="436.20" width="6.2" height="5.2" rx="2" fill="#fdfdfd" stroke="#9a9a9a" stroke-width="0.6"/>
<rect x="143.88" y="436.20" width="6.2" height="5.2" rx="2" fill="#fdfdfd" stroke="#9a9a9a" stroke-width="0.6"/>
<rect x="152.07" y="436.20" width="6.2" height="5.2" rx="2" fill="#fdfdfd" stroke="#9a9a9a" stroke-width="0.6"/>
<rect x="160.26" y="436.20" width="6.2" height="5.2" rx="2" fill="#fdfdfd" stroke="#9a9a9a" stroke-width="0.6"/>
<rect x="168.45" y="436.20" width="6.2" height="5.2" rx="2" fill="#fdfdfd" stroke="#9a9a9a" stroke-width="0.6"/>
<rect x="176.64" y="436.20" width="6.2" height="5.2" rx="2" fill="#fdfdfd" stroke="#9a9a9a" stroke-width="0.6"/>
<rect x="184.83" y="436.20" width="6.2" height="5.2" rx="2" fill="#fdfdfd" stroke="#9a9a9a" stroke-width="0.6"/>
<rect x="193.02" y="436.20" width="6.2" height="5.2" rx="2" fill="#fdfdfd" stroke="#9a9a9a" stroke-width="0.6"/>
<rect x="201.21" y="436.20" width="6.2" height="5.2" rx="2" fill="#fdfdfd" stroke="#9a9a9a" stroke-width="0.6"/>
<rect x="209.40" y="436.20" width="6.2" height="5.2" rx="2" fill="#fdfdfd" stroke="#9a9a9a" stroke-width="0.6"/>
<rect x="133.90" y="410.60" width="1.6" height="1.6" fill="#777"/>
<rect x="142.09" y="410.60" width="1.6" height="1.6" fill="#777"/>
<rect x="150.28" y="410.60" width="1.6" height="1.6" fill="#777"/>
<rect x="158.47" y="410.60" width="1.6" height="1.6" fill="#777"/>
<rect x="166.66" y="410.60" width="1.6" height="1.6" fill="#777"/>
<rect x="174.85" y="410.60" width="1.6" height="1.6" fill="#777"/>
<rect x="183.04" y="410.60" width="1.6" height="1.6" fill="#777"/>
<rect x="191.23" y="410.60" width="1.6" height="1.6" fill="#777"/>
<rect x="199.42" y="410.60" width="1.6" height="1.6" fill="#777"/>
<rect x="207.61" y="410.60" width="1.6" height="1.6" fill="#777"/>
<rect x="133.90" y="418.40" width="1.6" height="1.6" fill="#777"/>
<rect x="142.09" y="418.40" width="1.6" height="1.6" fill="#777"/>
<rect x="150.28" y="418.40" width="1.6" height="1.6" fill="#777"/>
<rect x="158.47" y="418.40" width="1.6" height="1.6" fill="#777"/>
<rect x="166.66" y="418.40" width="1.6" height="1.6" fill="#777"/>
<rect x="174.85" y="418.40" width="1.6" height="1.6" fill="#777"/>
<rect x="183.04" y="418.40" width="1.6" height="1.6" fill="#777"/>
<rect x="191.23" y="418.40" width="1.6" height="1.6" fill="#777"/>
<rect x="199.42" y="418.40" width="1.6" height="1.6" fill="#777"/>
<rect x="207.61" y="418.40" width="1.6" height="1.6" fill="#777"/>
<rect x="133.90" y="426.20" width="1.6" height="1.6" fill="#777"/>
<rect x="142.09" y="426.20" width="1.6" height="1.6" fill="#777"/>
<rect x="150.28" y="426.20" width="1.6" height="1.6" fill="#777"/>
<rect x="158.47" y="426.20" width="1.6" height="1.6" fill="#777"/>
<rect x="166.66" y="426.20" width="1.6" height="1.6" fill="#777"/>
<rect x="174.85" y="426.20" width="1.6" height="1.6" fill="#777"/>
<rect x="183.04" y="426.20" width="1.6" height="1.6" fill="#777"/>
<rect x="191.23" y="426.20" width="1.6" height="1.6" fill="#777"/>
<rect x="199.42" y="426.20" width="1.6" height="1.6" fill="#777"/>
<rect x="207.61" y="426.20" width="1.6" height="1.6" fill="#777"/>
<rect x="133.90" y="434.00" width="1.6" height="1.6" fill="#777"/>
<rect x="142.09" y="434.00" width="1.6" height="1.6" fill="#777"/>
<rect x="150.28" y="434.00" width="1.6" height="1.6" fill="#777"/>
<rect x="158.47" y="434.00" width="1.6" height="1.6" fill="#777"/>
<rect x="166.66" y="434.00" width="1.6" height="1.6" fill="#777"/>
<rect x="174.85" y="434.00" width="1.6" height="1.6" fill="#777"/>
<rect x="183.04" y="434.00" width="1.6" height="1.6" fill="#777"/>
<rect x="191.23" y="434.00" width="1.6" height="1.6" fill="#777"/>
<rect x="199.42" y="434.00" width="1.6" height="1.6" fill="#777"/>
<rect x="207.61" y="434.00" width="1.6" height="1.6" fill="#777"/>
<line x1="128.5" y1="405.5" x2="132.0" y2="409.0" stroke="#444" stroke-width="1.6"/>
<line x1="214.5" y1="405.5" x2="211.0" y2="409.0" stroke="#444" stroke-width="1.6"/>
<line x1="128.5" y1="440.8" x2="132.0" y2="437.3" stroke="#444" stroke-width="1.6"/>
<line x1="214.5" y1="440.8" x2="211.0" y2="437.3" stroke="#444" stroke-width="1.6"/>
<circle cx="171" cy="418.3" r="13.2" stroke="#fff" stroke-width="0" fill="#fff"/>
<circle cx="171" cy="418.3" r="13.3" stroke="#555" stroke-width="3" fill="none"/>
<path d="M159,418.3 L183,418.3 M171,406 L171,431" stroke="#aaa" stroke-width="1" fill="none" stroke-dasharray="5 2 2 2"/>
<circle cx="176.9" cy="414" r="2.1" stroke="#111" stroke-width="0.5" fill="#111"/>
<line x1="176.9" y1="414" x2="276.8" y2="362.75" stroke="#555" stroke-width="1"/>
<circle cx="290.25" cy="355.75" r="13.7" stroke="#7a7a7a" stroke-width="1.4" fill="none"/>
<text x="290.25" y="361.87" font-size="17" text-anchor="middle" fill="#3c3c3c" font-weight="normal" >4</text>
<line x1="184.5" y1="418.5" x2="279.75" y2="418.5" stroke="#9a9a9a" stroke-width="1"/>
<line x1="275.5" y1="374" x2="275.5" y2="438.9" stroke="#4a4a4a" stroke-width="1.1"/>
<path d="M275.90,396.90 L273.30,386.90 L275.90,389.40 L278.50,386.90 Z" fill="#4a4a4a" stroke="none"/>
<path d="M275.90,418.40 L278.50,428.40 L275.90,425.90 L273.30,428.40 Z" fill="#4a4a4a" stroke="none"/>
<circle cx="290.8" cy="407.4" r="13.7" stroke="#7a7a7a" stroke-width="1.4" fill="none"/>
<text x="290.8" y="413.52" font-size="17" text-anchor="middle" fill="#3c3c3c" font-weight="normal" >6</text>
<line x1="170.5" y1="483" x2="170.5" y2="486" stroke="#6e6e6e" stroke-width="1.2"/>
<circle cx="170.6" cy="488.75" r="2.5" stroke="#666" stroke-width="1" fill="#999"/>
<line x1="228.5" y1="483" x2="228.5" y2="487" stroke="#6e6e6e" stroke-width="1.2"/>
<circle cx="228.1" cy="489.4" r="2.2" stroke="#777" stroke-width="1" fill="#bbb"/>
<line x1="216.75" y1="503" x2="183" y2="492.2" stroke="#555" stroke-width="1"/>
<path d="M174.20,489.30 L186.48,490.29 L183.25,492.20 L184.78,495.62 Z" fill="#222" stroke="none"/>
<circle cx="230.4" cy="508.25" r="14.2" stroke="#7a7a7a" stroke-width="1.4" fill="none"/>
<text x="230.4" y="514.37" font-size="17" text-anchor="middle" fill="#3c3c3c" font-weight="normal" >22</text>
<line x1="85.6" y1="528.5" x2="256.8" y2="528.5" stroke="#4a4a4a" stroke-width="1.1"/>
<path d="M85.60,528.40 L96.60,525.80 L94.10,528.40 L96.60,531.00 Z" fill="#4a4a4a" stroke="none"/>
<path d="M256.80,528.40 L245.80,531.00 L248.30,528.40 L245.80,525.80 Z" fill="#4a4a4a" stroke="none"/>
<circle cx="170" cy="513.9" r="14.2" stroke="#7a7a7a" stroke-width="1.4" fill="none"/>
<text x="170" y="520.02" font-size="17" text-anchor="middle" fill="#3c3c3c" font-weight="normal" >2</text>
<path d="M561.4,474.6 L561.4,410 Q561.4,388 583,388 L711,388 Q733.5,388 733.5,410 L733.5,475" stroke="#6e6e6e" stroke-width="1.3" fill="none" />
<path d="M563.8,474.6 L563.8,410.5 Q563.8,390.2 584,390.2 L710.5,390.2 Q731.4,390.2 731.4,410.5 L731.4,475" stroke="#b8b8b8" stroke-width="1" fill="none" />
<path d="M566.3,474.6 L566.3,411 Q566.3,392.4 585,392.4 L710,392.4 Q729.2,392.4 729.2,411 L729.2,475" stroke="#4a4a4a" stroke-width="1.1" fill="none" />
<line x1="561.4" y1="474.5" x2="772" y2="474.5" stroke="#4a4a4a" stroke-width="1.3"/>
<line x1="594.5" y1="392.4" x2="594.5" y2="474.6" stroke="#9a9a9a" stroke-width="1"/>
<line x1="701.5" y1="392.4" x2="701.5" y2="474.6" stroke="#9a9a9a" stroke-width="1"/>
<line x1="594.25" y1="408.5" x2="701.65" y2="408.5" stroke="#9a9a9a" stroke-width="1"/>
<line x1="594.25" y1="428.5" x2="696" y2="428.5" stroke="#6e6e6e" stroke-width="1"/>
<line x1="594.25" y1="471.5" x2="696" y2="471.5" stroke="#6e6e6e" stroke-width="1.1"/>
<line x1="598.5" y1="408.75" x2="598.5" y2="428.2" stroke="#b8b8b8" stroke-width="1"/>
<rect x="606.5" y="408.75" width="9" height="17.8" rx="0" stroke="#9a9a9a" stroke-width="1" fill="none"/>
<rect x="616.5" y="411" width="11.5" height="15.5" rx="0" stroke="#b8b8b8" stroke-width="1" fill="none"/>
<rect x="630" y="408.75" width="10.75" height="17.8" rx="0" stroke="#9a9a9a" stroke-width="1" fill="none"/>
<line x1="640.75" y1="426.5" x2="701.65" y2="426.5" stroke="#b8b8b8" stroke-width="1"/>
<rect x="623" y="428.2" width="48.25" height="28.8" rx="1.5" stroke="#6e6e6e" stroke-width="1.1" fill="none"/>
<line x1="671.5" y1="428.2" x2="671.5" y2="474.6" stroke="#9a9a9a" stroke-width="1"/>
<line x1="695.5" y1="426.5" x2="695.5" y2="474.6" stroke="#6e6e6e" stroke-width="1.1"/>
<line x1="636" y1="474.3" x2="657" y2="474.3" stroke="#444" stroke-width="2.2"/>
<line x1="672" y1="473.5" x2="693" y2="473.5" stroke="#666" stroke-width="1.8"/>
<circle cx="682.4" cy="441.4" r="9.75" stroke="#9a9a9a" stroke-width="1.1" fill="none"/>
<path d="M682.4,431.6 L682.4,451.2 M679,431.6 L679,451.2" stroke="#9a9a9a" stroke-width="1" fill="none" />
<circle cx="687.5" cy="440.5" r="1.9" stroke="#111" stroke-width="0.5" fill="#111"/>
<line x1="687.5" y1="440.5" x2="744" y2="402.9" stroke="#555" stroke-width="1"/>
<circle cx="755.9" cy="395" r="14" stroke="#7a7a7a" stroke-width="1.4" fill="none"/>
<text x="755.9" y="401.12" font-size="17" text-anchor="middle" fill="#3c3c3c" font-weight="normal" >7</text>
<path d="M567.5,407 Q569,395 582,393.5 L568,407 Z" stroke="#9a9a9a" stroke-width="0.8" fill="#dadada" />
<path d="M728,407 Q726.5,395 713.5,393.5 L727.5,407 Z" stroke="#9a9a9a" stroke-width="0.8" fill="#dadada" />
<path d="M647.25,388 L647.25,385" stroke="#6e6e6e" stroke-width="1.6" fill="none" />
<circle cx="647.25" cy="382.5" r="2.6" stroke="#666" stroke-width="1.1" fill="#ddd"/>
<path d="M705.75,388 L705.75,384.5" stroke="#6e6e6e" stroke-width="1.3" fill="none" />
<circle cx="705.75" cy="382.8" r="1.9" stroke="#666" stroke-width="1" fill="#ddd"/>
<line x1="692" y1="441.5" x2="772" y2="441.5" stroke="#6e6e6e" stroke-width="1"/>
<line x1="769.5" y1="441.6" x2="769.5" y2="474.4" stroke="#4a4a4a" stroke-width="1.1"/>
<path d="M769.40,441.60 L772.00,450.60 L769.40,448.10 L766.80,450.60 Z" fill="#4a4a4a" stroke="none"/>
<path d="M769.40,474.40 L766.80,465.40 L769.40,467.90 L772.00,465.40 Z" fill="#4a4a4a" stroke="none"/>
<circle cx="753.6" cy="458.9" r="14" stroke="#7a7a7a" stroke-width="1.4" fill="none"/>
<text x="753.6" y="464.65999999999997" font-size="16" text-anchor="middle" fill="#3c3c3c" font-weight="normal" >8.1</text>
<line x1="682.5" y1="451.2" x2="682.5" y2="510" stroke="#6e6e6e" stroke-width="1.1"/>
<line x1="733.5" y1="479" x2="733.5" y2="510" stroke="#6e6e6e" stroke-width="1.1"/>
<line x1="682.6" y1="506.5" x2="733.3" y2="506.5" stroke="#4a4a4a" stroke-width="1.1"/>
<path d="M682.60,506.40 L693.60,503.80 L691.10,506.40 L693.60,509.00 Z" fill="#4a4a4a" stroke="none"/>
<path d="M733.30,506.40 L722.30,509.00 L724.80,506.40 L722.30,503.80 Z" fill="#4a4a4a" stroke="none"/>
<text x="708.5" y="502.9" font-size="16.5" text-anchor="middle" fill="#222" font-weight="normal" >276</text>
</svg></body></html>
